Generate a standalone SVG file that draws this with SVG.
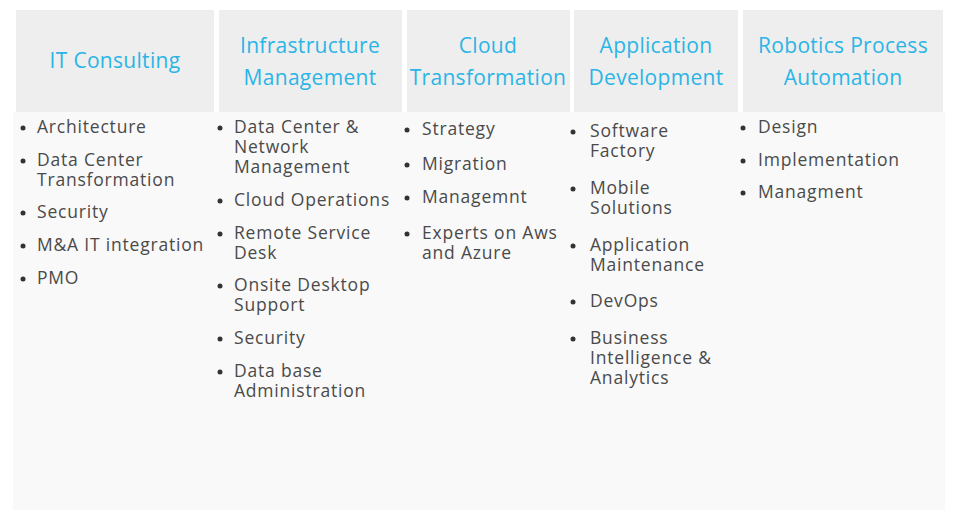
<svg xmlns="http://www.w3.org/2000/svg" width="962" height="527" viewBox="0 0 962 527">
<style>
.hdr{fill:#eeeeee}
.ht{font-family:"Open Sans","DejaVu Sans",sans-serif;font-size:21px;letter-spacing:0.3px;fill:#2bb5e6;text-anchor:middle}
.it{font-family:"Open Sans","DejaVu Sans",sans-serif;font-size:17.5px;letter-spacing:0.8px;fill:#4a4a4a}
.bl{fill:#333333}
</style>
<rect width="962" height="527" fill="#ffffff"/>
<rect x="13" y="112" width="932" height="398" fill="#f9f9f9"/>
<g id="it-consulting">
<rect class="hdr" x="16" y="10" width="198" height="102"/>
<text class="ht" x="115" y="68">IT Consulting</text>
<circle class="bl" cx="23" cy="128" r="2.5"/><text class="it" x="37" y="133">Architecture</text>
<circle class="bl" cx="23" cy="161" r="2.5"/><text class="it" x="37" y="166">Data Center</text><text class="it" x="37" y="186">Transformation</text>
<circle class="bl" cx="23" cy="213" r="2.5"/><text class="it" x="37" y="218">Security</text>
<circle class="bl" cx="23" cy="246" r="2.5"/><text class="it" x="37" y="251">M&amp;A IT integration</text>
<circle class="bl" cx="23" cy="279" r="2.5"/><text class="it" x="37" y="284">PMO</text>
</g>
<g id="infrastructure-management">
<rect class="hdr" x="219" y="10" width="183" height="102"/>
<text class="ht" x="310" y="53">Infrastructure</text>
<text class="ht" x="310" y="85">Management</text>
<circle class="bl" cx="220" cy="128" r="2.5"/><text class="it" x="234" y="133">Data Center &amp;</text><text class="it" x="234" y="153">Network</text><text class="it" x="234" y="173">Management</text>
<circle class="bl" cx="220" cy="201" r="2.5"/><text class="it" x="234" y="206">Cloud Operations</text>
<circle class="bl" cx="220" cy="234" r="2.5"/><text class="it" x="234" y="239">Remote Service</text><text class="it" x="234" y="259">Desk</text>
<circle class="bl" cx="220" cy="286" r="2.5"/><text class="it" x="234" y="291">Onsite Desktop</text><text class="it" x="234" y="311">Support</text>
<circle class="bl" cx="220" cy="339" r="2.5"/><text class="it" x="234" y="344">Security</text>
<circle class="bl" cx="220" cy="372" r="2.5"/><text class="it" x="234" y="377">Data base</text><text class="it" x="234" y="397">Administration</text>
</g>
<g id="cloud-transformation">
<rect class="hdr" x="407" y="10" width="163" height="102"/>
<text class="ht" x="488" y="53">Cloud</text>
<text class="ht" x="488" y="85">Transformation</text>
<circle class="bl" cx="407" cy="130" r="2.5"/><text class="it" x="422" y="135">Strategy</text>
<circle class="bl" cx="407" cy="165" r="2.5"/><text class="it" x="422" y="170">Migration</text>
<circle class="bl" cx="407" cy="198" r="2.5"/><text class="it" x="422" y="203">Managemnt</text>
<circle class="bl" cx="407" cy="234" r="2.5"/><text class="it" x="422" y="239">Experts on Aws</text><text class="it" x="422" y="259">and Azure</text>
</g>
<g id="application-development">
<rect class="hdr" x="574" y="10" width="164" height="102"/>
<text class="ht" x="656" y="53">Application</text>
<text class="ht" x="656" y="85">Development</text>
<circle class="bl" cx="573" cy="132" r="2.5"/><text class="it" x="590" y="137">Software</text><text class="it" x="590" y="157">Factory</text>
<circle class="bl" cx="573" cy="189" r="2.5"/><text class="it" x="590" y="194">Mobile</text><text class="it" x="590" y="214">Solutions</text>
<circle class="bl" cx="573" cy="246" r="2.5"/><text class="it" x="590" y="251">Application</text><text class="it" x="590" y="271">Maintenance</text>
<circle class="bl" cx="573" cy="302" r="2.5"/><text class="it" x="590" y="307">DevOps</text>
<circle class="bl" cx="573" cy="339" r="2.5"/><text class="it" x="590" y="344">Business</text><text class="it" x="590" y="364">Intelligence &amp;</text><text class="it" x="590" y="384">Analytics</text>
</g>
<g id="robotics-process-automation">
<rect class="hdr" x="743" y="10" width="200" height="102"/>
<text class="ht" x="843" y="53">Robotics Process</text>
<text class="ht" x="843" y="85">Automation</text>
<circle class="bl" cx="743" cy="128" r="2.5"/><text class="it" x="758" y="133">Design</text>
<circle class="bl" cx="743" cy="161" r="2.5"/><text class="it" x="758" y="166">Implementation</text>
<circle class="bl" cx="743" cy="193" r="2.5"/><text class="it" x="758" y="198">Managment</text>
</g>
<g id="connectors"/>
</svg>
